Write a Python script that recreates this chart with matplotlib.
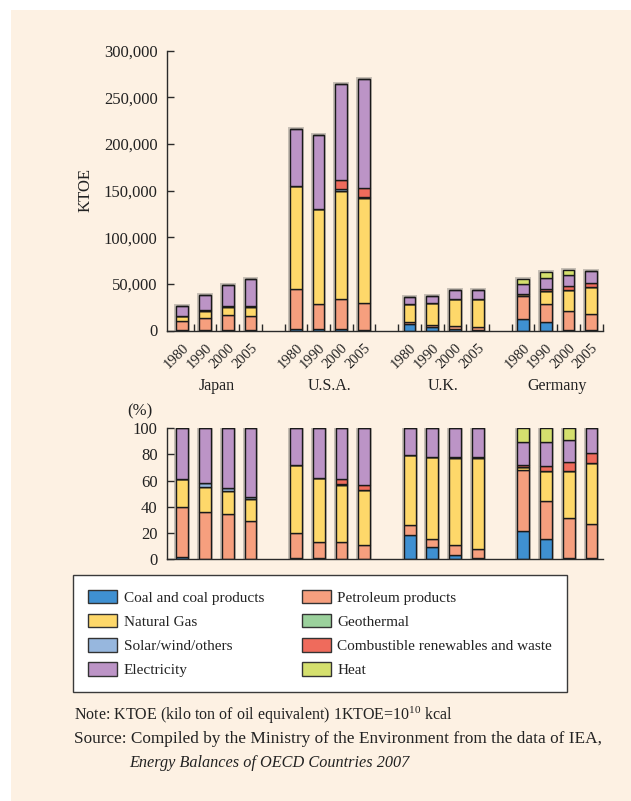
import numpy as np
import matplotlib
matplotlib.use("Agg")
import matplotlib.pyplot as plt
from matplotlib.patches import Rectangle, Patch

plt.rcParams['font.family'] = ['Liberation Serif', 'DejaVu Serif']
plt.rcParams['mathtext.fontset'] = 'custom'
plt.rcParams['mathtext.rm'] = 'Liberation Serif'
plt.rcParams['mathtext.it'] = 'Liberation Serif:italic'

# ---------------- data (KTOE) ----------------
countries = ['Japan', 'U.S.A.', 'U.K.', 'Germany']
years = ['1980', '1990', '2000', '2005']

series_names = ['Coal and coal products', 'Petroleum products', 'Natural Gas',
                'Geothermal', 'Solar/wind/others',
                'Combustible renewables and waste', 'Electricity', 'Heat']

# each list: Japan(4 yrs), U.S.A.(4), U.K.(4), Germany(4)
coal = [500, 100, 100, 100,
        1500, 1500, 1500, 800,
        6600, 3400, 1400, 400,
        12000, 9600, 700, 500]
petroleum = [9900, 13600, 16600, 15900,
             42500, 26500, 32500, 28200,
             2800, 2400, 3200, 3000,
             25300, 18400, 19900, 16800]
natural_gas = [5500, 7300, 8700, 9400,
               110500, 102700, 116000, 112700,
               19100, 23500, 28800, 30100,
               1400, 14400, 23300, 29300]
geothermal = [0, 0, 0, 0,
              0, 0, 0, 0,
              0, 0, 0, 0,
              0, 0, 0, 0]
solar_wind = [0, 1000, 900, 800,
              0, 0, 1500, 1500,
              0, 0, 300, 300,
              0, 0, 0, 0]
combustible = [0, 0, 0, 0,
               0, 0, 10200, 9800,
               0, 0, 0, 0,
               700, 2200, 4200, 4800]
electricity = [10100, 16100, 22300, 28900,
               61500, 79300, 102800, 116500,
               7500, 8200, 9500, 9700,
               9900, 11700, 11200, 12200]
heat = [0, 0, 0, 0,
        0, 0, 0, 0,
        0, 0, 0, 0,
        5700, 6700, 5800, 0]

y_ticks_top = [0, 50000, 100000, 150000, 200000, 250000, 300000]
y_ticks_pct = [0, 20, 40, 60, 80, 100]

colors = ['#3F90D1', '#F69F7E', '#FED86A', '#9BD19C', '#97B7DE',
          '#EF6B5C', '#BC94C6', '#D5E06E']

CREAM = '#FDF1E3'
EDGE = '#1A1A1A'

series = [coal, petroleum, natural_gas, geothermal, solar_wind,
          combustible, electricity, heat]
data = np.array(series, dtype=float)          # (8, 16)
totals = data.sum(axis=0)
pct = data / totals * 100

positions = np.array([g * 5 + i for g in range(4) for i in range(4)], dtype=float)
xticklabels = years * 4

# ---------------- figure ----------------
W, H = 631, 801
fig = plt.figure(figsize=(W / 100, H / 100), dpi=100, facecolor='white')
fig.patches.append(Rectangle((11 / W, -0.01), 1.02 - 11 / W, 1.01 - 10 / H,
                             transform=fig.transFigure, facecolor=CREAM,
                             edgecolor='none', zorder=-10))

x_left, x_right = -0.66, 18.52
bw = 0.52


def draw_stack(ax, values):
    # soft halo
    ax.bar(positions, values.sum(axis=0), bw, bottom=0, fill=False,
           edgecolor=(0.25, 0.25, 0.25, 0.3), linewidth=2.8, zorder=1)
    bottom = np.zeros(values.shape[1])
    for k in range(values.shape[0]):
        ax.bar(positions, values[k], bw, bottom=bottom, color=colors[k],
               edgecolor=EDGE, linewidth=1.0, zorder=2)
        bottom += values[k]


def style_axes(ax):
    ax.set_facecolor('none')
    for s in ['top', 'right']:
        ax.spines[s].set_visible(False)
    for s in ['left', 'bottom']:
        ax.spines[s].set_color('#2a2a2a')
        ax.spines[s].set_linewidth(1.0)
    ax.set_xlim(x_left, x_right)
    ax.tick_params(axis='y', direction='in', length=5, width=1,
                   color='#2a2a2a', labelsize=12, pad=7, labelcolor='#222')


# ---------- top chart ----------
ax1 = fig.add_axes([167.3 / W, 1 - 330.5 / H, (603.0 - 167.3) / W, 280 / H])
draw_stack(ax1, data)
style_axes(ax1)
ax1.set_ylim(0, 300000)
ax1.set_yticks(y_ticks_top)
ax1.set_yticklabels([f'{v:,}' for v in y_ticks_top])
ax1.set_xticks(positions)
ax1.set_xticklabels(xticklabels, rotation=45, ha='right',
                    rotation_mode='anchor', fontsize=10.5, color='#222')
ax1.tick_params(axis='x', which='major', length=0, pad=8)
ax1.set_xticks(np.arange(0.5, 18.6, 1.0), minor=True)
ax1.tick_params(axis='x', which='minor', direction='in', length=5,
                width=1, color='#2a2a2a')
ax1.set_ylabel('KTOE', fontsize=12, color='#222', labelpad=7)
for g, name in enumerate(countries):
    ax1.text(positions[g * 4:(g + 1) * 4].mean(), -0.2, name,
             transform=ax1.get_xaxis_transform(), ha='center', va='center',
             fontsize=11.5, color='#222')

# ---------- bottom chart ----------
ax2 = fig.add_axes([167.3 / W, 1 - 559.3 / H, (603.3 - 167.3) / W, 131.3 / H])
draw_stack(ax2, pct)
style_axes(ax2)
ax2.set_ylim(0, 100)
ax2.set_yticks(y_ticks_pct)
ax2.set_xticks([])
ax2.text(-0.035, 1.13, '(%)', transform=ax2.transAxes, ha='right',
         va='center', fontsize=12, color='#222')

# ---------- legend ----------
order = [0, 2, 4, 6, 1, 3, 5, 7]
handles = [Patch(facecolor=colors[k], edgecolor='#333', linewidth=1.0) for k in order]
labels = [series_names[k] for k in order]
leg = fig.legend(handles, labels, loc='upper left',
                 bbox_to_anchor=(73.3 / W, 1 - 575 / H), ncol=2,
                 frameon=True, fancybox=False, edgecolor='#3a3a3a',
                 facecolor='white', framealpha=1, fontsize=11,
                 handlelength=1.9, handleheight=1.0, handletextpad=0.45,
                 labelspacing=0.6, columnspacing=2.45, borderpad=0.95,
                 borderaxespad=0)
leg.get_frame().set_linewidth(1.0)
for t in leg.get_texts():
    t.set_color('#222')

# ---------- notes ----------
fig.text(74 / W, 1 - 715 / H,
         'Note: KTOE (kilo ton of oil equivalent) 1KTOE=10$^{10}$ kcal',
         ha='left', va='center', fontsize=11.5, color='#222')
fig.text(74 / W, 1 - 739 / H,
         'Source: Compiled by the Ministry of the Environment from the data of IEA,',
         ha='left', va='center', fontsize=12.4, color='#222')
fig.text(129 / W, 1 - 763 / H, 'Energy Balances of OECD Countries 2007',
         ha='left', va='center', fontsize=11.7, style='italic', color='#222')

fig.savefig('out.png', dpi=100, facecolor=fig.get_facecolor())
